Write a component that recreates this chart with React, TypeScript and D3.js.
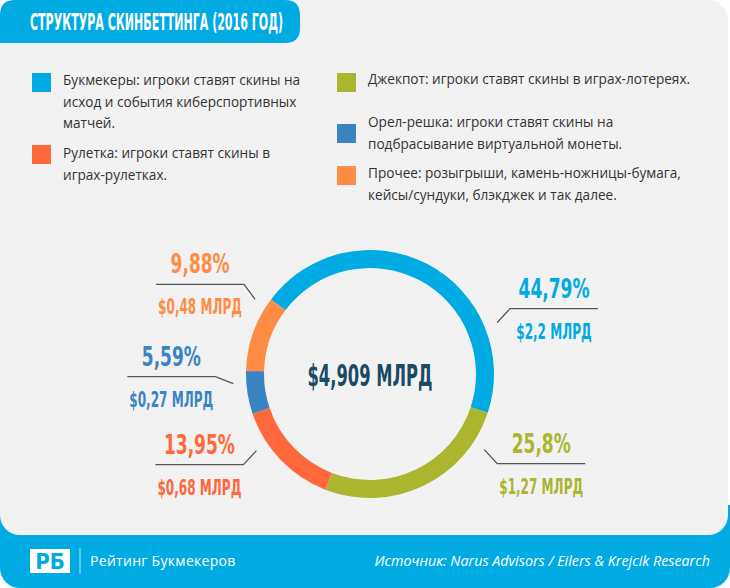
import React from 'react';
import * as d3 from 'd3';

// data
const categories = ['Букмекеры', 'Джекпот', 'Рулетка', 'Орел-решка', 'Прочее'];
const shares = [44.79, 25.8, 13.95, 5.59, 9.88];
const shareLabels = ['44,79%', '25,8%', '13,95%', '5,59%', '9,88%'];
const amountLabels = ['$2,2 МЛРД', '$1,27 МЛРД', '$0,68 МЛРД', '$0,27 МЛРД', '$0,48 МЛРД'];
const totalLabel = '$4,909 МЛРД';
const legendLines = [
  ['Букмекеры: игроки ставят скины на', 'исход и события киберспортивных', 'матчей.'],
  ['Джекпот: игроки ставят скины в играх-лотереях.'],
  ['Рулетка: игроки ставят скины в', 'играх-рулетках.'],
  ['Орел-решка: игроки ставят скины на', 'подбрасывание виртуальной монеты.'],
  ['Прочее: розыгрыши, камень-ножницы-бумага,', 'кейсы/сундуки, блэкджек и так далее.'],
];
const title = 'СТРУКТУРА СКИНБЕТТИНГА (2016 ГОД)';
const footerName = 'Рейтинг Букмекеров';
const footerSource = 'Источник: Narus Advisors / Eilers & Krejcik Research';

const colors = ['#00abe4', '#abb52d', '#ff683b', '#3b84c4', '#ff8c45'];

// layout
const W = 730;
const H = 588;
const cx = 370;
const cy = 374;
const outerR = 124;
const innerR = 106;
const startDeg = -53;
// leader anchor angle (deg, clockwise from top) and elbow offset
const leaders = [
  { angle: 68, dx: 13, dy: -14 },
  { angle: 123.5, dx: 13, dy: 14 },
  { angle: 236, dx: -13, dy: 14 },
  { angle: 266, dx: -18, dy: -7 },
  { angle: 303, dx: -11, dy: -15 },
];
const legendPos = [
  { x: 32, y: 73, ty: 85 },
  { x: 337, y: 73, ty: 84 },
  { x: 32, y: 145, ty: 158 },
  { x: 337, y: 124, ty: 127 },
  { x: 337, y: 166, ty: 178 },
];

const condensed = "'Liberation Sans Narrow', 'DejaVu Sans Condensed', sans-serif";
const body = "'Open Sans', 'Noto Sans', sans-serif";

// rough widths for condensed display labels
const pctWidth = (s: string) =>
  s.split('').reduce((w, c) => w + (c === ',' ? 6 : c === '%' ? 17 : 12), 0);
const amtWidth = (s: string) =>
  s.split('').reduce((w, c) => w + (c === ',' || c === ' ' ? 4 : /[МЛРД]/.test(c) ? 10.5 : 8.5), 0);

const App: React.FC = () => {
  const toRad = (d: number) => (d * Math.PI) / 180;
  const pie = d3
    .pie<number>()
    .sort(null)
    .value(d => d)
    .startAngle(toRad(startDeg))
    .endAngle(toRad(startDeg) + 2 * Math.PI);
  const arcs = pie(shares);
  const arc = d3.arc<d3.PieArcDatum<number>>().innerRadius(innerR).outerRadius(outerR);

  const lineLen = 88;

  return (
    <svg width={W} height={H} style={{ position: 'absolute', left: 0, top: 0, background: '#fff' }}>
      {/* footer band */}
      <rect x={0} y={505} width={W} height={83} rx={20} fill="#00abe4" />
      <rect x={0} y={505} width={W} height={40} fill="#00abe4" />
      {/* card */}
      <rect x={0} y={0} width={728} height={535} rx={20} fill="#f2f2f2" />
      {/* title pill */}
      <path d="M0,15 Q0,0 15,0 L285,0 Q300,0 300,15 L300,28 Q300,43 285,43 L0,43 Z" fill="#00abe4" />
      <text
        x={30}
        y={30}
        fill="#fff"
        fontFamily={condensed}
        fontWeight="bold"
        fontSize={23}
        textLength={253}
        lengthAdjust="spacingAndGlyphs"
      >
        {title}
      </text>

      {/* legend */}
      {legendLines.map((lines, i) => (
        <g key={categories[i]}>
          <rect x={legendPos[i].x} y={legendPos[i].y} width={19} height={19} fill={colors[i]} />
          {lines.map((ln, j) => (
            <text
              key={j}
              x={legendPos[i].x + 31}
              y={legendPos[i].ty + j * 21.5}
              fontFamily={body}
              fontSize={13.6}
              fill="#333"
            >
              {ln}
            </text>
          ))}
        </g>
      ))}

      {/* donut */}
      <g transform={`translate(${cx},${cy})`}>
        {arcs.map((a, i) => (
          <path key={categories[i]} d={arc(a) || ''} fill={colors[i]} />
        ))}
        <text
          x={0}
          y={12}
          textAnchor="middle"
          fill="#1b4b63"
          fontFamily={condensed}
          fontWeight="bold"
          fontSize={31}
          textLength={125}
          lengthAdjust="spacingAndGlyphs"
        >
          {totalLabel}
        </text>
      </g>

      {/* leaders and labels */}
      {leaders.map((l, i) => {
        const r = outerR + 13;
        const a = toRad(l.angle);
        const x0 = cx + r * Math.sin(a);
        const y0 = cy - r * Math.cos(a);
        const x1 = x0 + l.dx;
        const y1 = y0 + l.dy;
        const x2 = l.dx > 0 ? x1 + lineLen : x1 - lineLen;
        const mid = (x1 + x2) / 2;
        return (
          <g key={categories[i]}>
            <polyline
              points={`${x0},${y0} ${x1},${y1} ${x2},${y1}`}
              fill="none"
              stroke="#555"
              strokeWidth={1.3}
            />
            <text
              x={mid}
              y={y1 - 11}
              textAnchor="middle"
              fill={colors[i]}
              fontFamily={condensed}
              fontWeight="bold"
              fontSize={27}
              textLength={pctWidth(shareLabels[i])}
              lengthAdjust="spacingAndGlyphs"
            >
              {shareLabels[i]}
            </text>
            <text
              x={mid}
              y={y1 + 30}
              textAnchor="middle"
              fill={colors[i]}
              fontFamily={condensed}
              fontWeight="bold"
              fontSize={22}
              textLength={amtWidth(amountLabels[i])}
              lengthAdjust="spacingAndGlyphs"
            >
              {amountLabels[i]}
            </text>
          </g>
        );
      })}

      {/* footer */}
      <rect x={30} y={549} width={40} height={24} fill="#fff" />
      <text x={50} y={569} textAnchor="middle" fill="#00abe4" fontFamily={condensed} fontWeight="bold" fontSize={22}>
        РБ
      </text>
      <line x1={80} x2={80} y1={548} y2={574} stroke="#fff" strokeOpacity={0.7} strokeWidth={1} />
      <text x={90} y={566} fill="#fff" fontFamily={body} fontSize={14} letterSpacing={0.3}>
        {footerName}
      </text>
      <text x={710} y={566} textAnchor="end" fill="#fff" fontFamily={body} fontStyle="italic" fontSize={14.3}>
        {footerSource}
      </text>
    </svg>
  );
};

export default App;
